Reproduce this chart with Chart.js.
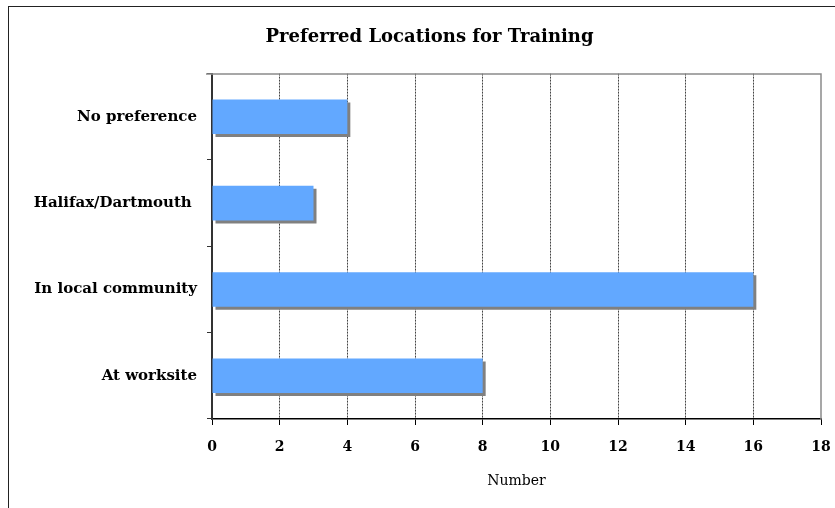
<!DOCTYPE html>
<html>
<head>
<meta charset="utf-8">
<script src="https://cdn.jsdelivr.net/npm/chart.js@4/dist/chart.umd.min.js"></script>
<style>
html,body{margin:0;padding:0;background:#fff;overflow:hidden;}
#wrap{position:absolute;left:0;top:0;width:835px;height:508px;}
#frame{position:absolute;left:8px;top:6px;width:900px;height:600px;border:1px solid #222;box-sizing:border-box;}
canvas{position:absolute;left:0;top:0;}
</style>
</head>
<body>
<div id="wrap">
<div id="frame"></div>
<canvas id="c" width="835" height="508"></canvas>
</div>
<script>
const titleText = "Preferred Locations for Training";
const categories = ["No preference", "Halifax/Dartmouth ", "In local community", "At worksite"];
const values = [4, 3, 16, 8];
const xTicks = [0, 2, 4, 6, 8, 10, 12, 14, 16, 18];
const xTitle = "Number";

const FONT = "'DejaVu Serif', 'Liberation Serif', serif";

const shadowPlugin = {
  id: 'barShadow',
  beforeDatasetDraw(chart) {
    const ctx = chart.ctx;
    ctx.save();
    ctx.shadowColor = '#808080';
    ctx.shadowOffsetX = 3;
    ctx.shadowOffsetY = 3;
    ctx.shadowBlur = 0;
  },
  afterDatasetDraw(chart) {
    chart.ctx.restore();
  }
};

const borderPlugin = {
  id: 'plotBorder',
  afterLayout(chart) {
    const t = chart.titleBlock;
    if (t) { t.left += 19; t.right += 19; }
  },
  beforeDatasetsDraw(chart) {
    const {ctx, chartArea: a} = chart;
    ctx.save();
    ctx.strokeStyle = '#8a8a8a';
    ctx.lineWidth = 1.5;
    ctx.beginPath();
    ctx.moveTo(a.left - 6, a.top + 0.5);
    ctx.lineTo(a.right, a.top + 0.5);
    ctx.lineTo(a.right, a.bottom);
    ctx.stroke();
    ctx.restore();
  }
};

new Chart(document.getElementById('c'), {
  type: 'bar',
  data: {
    labels: categories,
    datasets: [{
      data: values,
      backgroundColor: '#62a8ff',
      borderWidth: 0,
      barPercentage: 0.4,
      categoryPercentage: 1.0
    }]
  },
  options: {
    indexAxis: 'y',
    responsive: false,
    animation: false,
    layout: { padding: { left: 0, right: 14, top: 0, bottom: 14 } },
    plugins: {
      legend: { display: false },
      tooltip: { enabled: false },
      title: {
        display: true,
        text: titleText,
        color: '#000',
        font: { family: FONT, size: 18, weight: 'bold' },
        padding: { top: 27, bottom: 25 }
      }
    },
    scales: {
      x: {
        min: 0, max: 18,
        afterBuildTicks(scale) { scale.ticks = xTicks.map(v => ({ value: v })); },
        afterFit(scale) { scale.height = 75; scale.paddingRight = 0; scale.paddingLeft = 0; },
        ticks: {
          color: '#000',
          font: { family: FONT, size: 14, weight: 'bold' },
          padding: 14,
          maxRotation: 0
        },
        grid: {
          color: (c) => (c.tick && c.tick.value === 18) ? 'rgba(0,0,0,0)' : '#444',
          lineWidth: 1,
          tickLength: 6,
          tickColor: '#000',
          tickBorderDash: [],
          drawTicks: true
        },
        border: { display: true, color: '#000', width: 1.5, dash: [2, 1] },
        title: {
          display: true,
          text: xTitle,
          color: '#000',
          font: { family: FONT, size: 14 },
          padding: { top: 7 }
        }
      },
      y: {
        offset: true,
        afterFit(scale) { scale.width = 212; scale.paddingTop = 0; scale.paddingBottom = 0; },
        ticks: {
          color: '#000',
          font: { family: FONT, size: 15, weight: 'bold' },
          padding: 10
        },
        grid: {
          offset: true,
          drawOnChartArea: false,
          tickLength: 5,
          tickColor: '#333'
        },
        border: { display: true, color: '#333', width: 2 }
      }
    }
  },
  plugins: [borderPlugin, shadowPlugin]
});
</script>
</body>
</html>
